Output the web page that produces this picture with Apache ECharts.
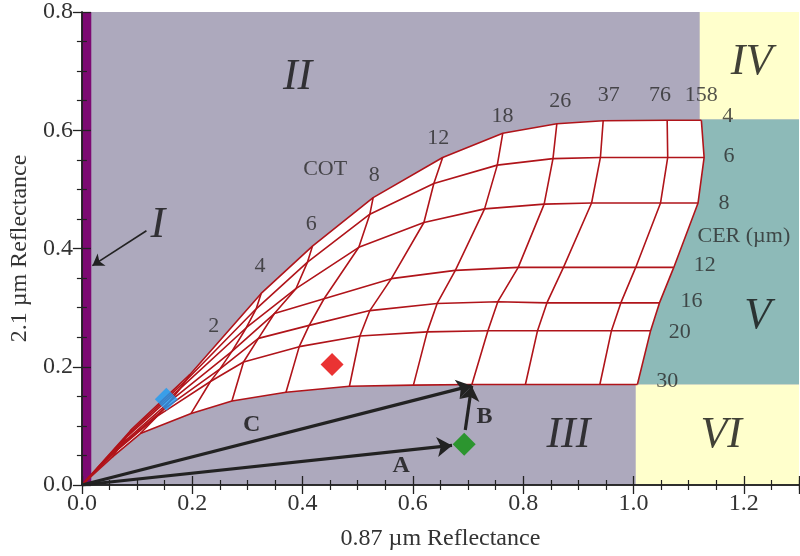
<!DOCTYPE html>
<html><head><meta charset="utf-8">
<script src="https://cdn.jsdelivr.net/npm/echarts@6/dist/echarts.min.js"></script>
<style>html,body{margin:0;padding:0;background:#fff}#c{width:800px;height:556px}</style>
</head><body><div id="c"></div>
<script>
// ---- data ----
const cotValues = [0, 1, 2, 4, 6, 8, 12, 18, 26, 37, 76, 158];
const cerValues = [4, 6, 8, 12, 16, 20, 30];
// 0.87 um reflectance, one row per CER, one column per COT
const r087 = [
  [0, 0.090, 0.196, 0.325, 0.418, 0.528, 0.654, 0.763, 0.861, 0.945, 1.061, 1.123],
  [0, 0.085, 0.188, 0.316, 0.409, 0.522, 0.638, 0.753, 0.854, 0.940, 1.062, 1.128],
  [0, 0.080, 0.178, 0.298, 0.388, 0.502, 0.620, 0.730, 0.838, 0.924, 1.049, 1.117],
  [0, 0.073, 0.160, 0.272, 0.349, 0.439, 0.561, 0.677, 0.791, 0.873, 1.004, 1.073],
  [0, 0.068, 0.147, 0.250, 0.320, 0.412, 0.522, 0.644, 0.754, 0.843, 0.977, 1.047],
  [0, 0.065, 0.136, 0.233, 0.293, 0.394, 0.504, 0.626, 0.736, 0.826, 0.960, 1.031],
  [0, 0.055, 0.106, 0.198, 0.272, 0.370, 0.485, 0.601, 0.707, 0.804, 0.939, 1.007]
];
// 2.1 um reflectance
const r21 = [
  [0, 0.094, 0.187, 0.324, 0.404, 0.486, 0.554, 0.595, 0.611, 0.616, 0.617, 0.617],
  [0, 0.087, 0.176, 0.298, 0.377, 0.458, 0.510, 0.541, 0.552, 0.554, 0.554, 0.554],
  [0, 0.080, 0.163, 0.266, 0.332, 0.402, 0.444, 0.467, 0.475, 0.477, 0.477, 0.477],
  [0, 0.070, 0.142, 0.226, 0.290, 0.315, 0.349, 0.363, 0.368, 0.368, 0.368, 0.368],
  [0, 0.064, 0.127, 0.196, 0.248, 0.270, 0.295, 0.307, 0.310, 0.308, 0.308, 0.308],
  [0, 0.060, 0.116, 0.175, 0.208, 0.234, 0.252, 0.259, 0.261, 0.261, 0.261, 0.261],
  [0, 0.047, 0.087, 0.121, 0.142, 0.157, 0.167, 0.169, 0.170, 0.170, 0.170, 0.170]
];
// regions
const regionNames = ['I', 'IV', 'V', 'VI'];
const regionX0 = [0, 1.12, 1.004, 1.004];
const regionX1 = [0.017, 1.3, 1.3, 1.3];
const regionY0 = [0, 0.618, 0.170, 0];
const regionY1 = [0.8, 0.8, 0.618, 0.170];
// pixels (diamonds)
const pointNames = ['blue', 'red', 'green'];
const pointX = [0.153, 0.4535, 0.693];
const pointY = [0.145, 0.2037, 0.069];
// arrows
const arrowNames = ['A', 'B', 'C', 'I'];
const arrowX0 = [0, 0.695, 0, 0.117];
const arrowY0 = [0, 0.093, 0, 0.430];
const arrowX1 = [0.671, 0.7066, 0.7066, 0.019];
const arrowY1 = [0.067, 0.168, 0.168, 0.371];
// labels
const cotLabelText = ['2', '4', '6', '8', '12', '18', '26', '37', '76', '158', 'COT'];
const cotLabelX = [0.239, 0.323, 0.416, 0.530, 0.646, 0.7625, 0.867, 0.955, 1.048, 1.123, 0.441];
const cotLabelY = [0.269, 0.3705, 0.441, 0.524, 0.586, 0.623, 0.649, 0.659, 0.659, 0.659, 0.534];
const cerLabelText = ['4', '6', '8', 'CER (µm)', '12', '16', '20', '30'];
const cerLabelX = [1.171, 1.173, 1.164, 1.200, 1.129, 1.105, 1.084, 1.061];
const cerLabelY = [0.623, 0.556, 0.4766, 0.421, 0.372, 0.3116, 0.259, 0.175];
const regionLabelText = ['I', 'II', 'III', 'IV', 'V', 'VI'];
const regionLabelX = [0.1375, 0.391, 0.882, 1.214, 1.225, 1.159];
const regionLabelY = [0.4396, 0.689, 0.084, 0.714, 0.2846, 0.084];
const arrowLabelText = ['A', 'B', 'C'];
const arrowLabelX = [0.5786, 0.730, 0.3077];
const arrowLabelY = [0.032, 0.1157, 0.1016];
const xTitle = '0.87 µm Reflectance';
const yTitle = '2.1 µm Reflectance';

// ---- styles ----
const FONT = 'Liberation Serif';
const RED = '#B0141A';
const BG = '#ADA9BD';
const regionColors = ['#7C0A72', '#FFFFCC', '#8DBAB8', '#FFFFCC'];
const pointColors = ['#1C9BF2', '#E50000', '#0B900B'];
const TXT = '#2a2a2a';

const chart = echarts.init(document.getElementById('c'), null, {renderer: 'canvas'});

const series = [];
// region rectangles
series.push({
  type: 'custom', z: 1, silent: true, animation: false,
  encode: {x: [0, 1], y: [2, 3]},
  data: regionNames.map((n, k) => [regionX0[k], regionX1[k], regionY0[k], regionY1[k]]),
  renderItem: (params, api) => {
    const p0 = api.coord([api.value(0), api.value(3)]);
    const p1 = api.coord([api.value(1), api.value(2)]);
    return {type: 'rect', shape: {x: p0[0], y: p0[1], width: p1[0] - p0[0], height: p1[1] - p0[1]},
      style: {fill: regionColors[params.dataIndex]}};
  }
});
// white LUT area
const nT = cotValues.length, nR = cerValues.length;
const boundary = [];
for (let j = 0; j < nT; j++) boundary.push([r087[0][j], r21[0][j]]);
for (let i = 1; i < nR; i++) boundary.push([r087[i][nT - 1], r21[i][nT - 1]]);
for (let j = nT - 2; j >= 0; j--) boundary.push([r087[nR - 1][j], r21[nR - 1][j]]);
series.push({
  type: 'custom', z: 2, silent: true, animation: false,
  data: [[0, 0]],
  renderItem: (params, api) => ({type: 'polygon', shape: {points: boundary.map(p => api.coord(p))}, style: {fill: '#ffffff'}})
});
// constant-CER lines
cerValues.forEach((re, i) => {
  series.push({type: 'line', z: 3, silent: true, animation: false, symbol: 'none',
    data: cotValues.map((t, j) => [r087[i][j], r21[i][j]]),
    lineStyle: {color: RED, width: 1.6}});
});
// constant-COT lines
cotValues.forEach((t, j) => {
  if (t === 0) return;
  series.push({type: 'line', z: 3, silent: true, animation: false, symbol: 'none',
    data: cerValues.map((re, i) => [r087[i][j], r21[i][j]]),
    lineStyle: {color: RED, width: 1.6}});
});
// arrows
series.push({
  type: 'lines', coordinateSystem: 'cartesian2d', z: 5, silent: true, animation: false,
  symbol: ['none', 'arrow'], symbolSize: 15,
  data: [0, 1, 2].map(k => ({coords: [[arrowX0[k], arrowY0[k]], [arrowX1[k], arrowY1[k]]]})),
  lineStyle: {color: '#222', width: 3.2, opacity: 1, curveness: 0}
});
series.push({
  type: 'lines', coordinateSystem: 'cartesian2d', z: 5, silent: true, animation: false,
  symbol: ['none', 'arrow'], symbolSize: 11,
  data: [3].map(k => ({coords: [[arrowX0[k], arrowY0[k]], [arrowX1[k], arrowY1[k]]]})),
  lineStyle: {color: '#222', width: 1.6, opacity: 1, curveness: 0}
});
// diamonds
series.push({
  type: 'scatter', z: 6, silent: true, animation: false, symbol: 'diamond', symbolSize: 23,
  data: pointNames.map((n, k) => ({value: [pointX[k], pointY[k]], itemStyle: {color: pointColors[k]}}))
});
// text labels
function textSeries(texts, xs, ys, labelStyle) {
  return {
    type: 'scatter', z: 8, silent: true, animation: false, symbolSize: 1,
    itemStyle: {color: 'rgba(0,0,0,0)'},
    label: Object.assign({show: true, position: 'inside', formatter: p => p.name, fontFamily: FONT, color: TXT}, labelStyle),
    data: texts.map((t, k) => ({name: t, value: [xs[k], ys[k]]}))
  };
}
series.push(textSeries(cotLabelText, cotLabelX, cotLabelY, {fontSize: 22}));
series.push(textSeries(cerLabelText, cerLabelX, cerLabelY, {fontSize: 22}));
series.push(textSeries(regionLabelText, regionLabelX, regionLabelY, {fontSize: 44, fontStyle: 'italic', color: '#111'}));
series.push(textSeries(arrowLabelText, arrowLabelX, arrowLabelY, {fontSize: 24, fontWeight: 'bold', color: '#111'}));

const axisCommon = {
  type: 'value', z: 10,
  axisLine: {show: true, lineStyle: {color: '#222', width: 1.5}},
  axisTick: {show: true, inside: true, length: 9, lineStyle: {color: '#222', width: 1.3}},
  minorTick: {show: true, splitNumber: 4, length: 5, lineStyle: {color: '#222', width: 1.2}},
  splitLine: {show: false},
  minorSplitLine: {show: false}
};
const option = {
  backgroundColor: '#ffffff',
  animation: false,
  grid: {left: 71, right: 1, top: 12, bottom: 69, show: true, backgroundColor: BG, borderWidth: 0},
  xAxis: [
    Object.assign({}, axisCommon, {position: 'bottom', min: 0, max: 1.3, interval: 0.2,
      name: xTitle, nameLocation: 'middle', nameGap: 42,
      nameTextStyle: {fontFamily: FONT, fontSize: 24, color: '#333'},
      axisLabel: {show: true, margin: 7, fontFamily: FONT, fontSize: 24, color: '#333', showMaxLabel: false,
        formatter: v => v.toFixed(1)}}),
    Object.assign({}, axisCommon, {position: 'top', min: 0, max: 1.3, interval: 0.2, axisLabel: {show: false}})
  ],
  yAxis: [
    Object.assign({}, axisCommon, {position: 'left', min: 0, max: 0.8, interval: 0.2,
      name: yTitle, nameLocation: 'middle', nameGap: 44, nameRotate: 90,
      nameTextStyle: {fontFamily: FONT, fontSize: 24, color: '#333'},
      axisLabel: {show: true, margin: 9, fontFamily: FONT, fontSize: 24, color: '#333',
        formatter: v => v.toFixed(1)}}),
    Object.assign({}, axisCommon, {position: 'right', min: 0, max: 0.8, interval: 0.2, axisLabel: {show: false}})
  ],
  series: series
};
chart.setOption(option);
</script>
</body></html>
